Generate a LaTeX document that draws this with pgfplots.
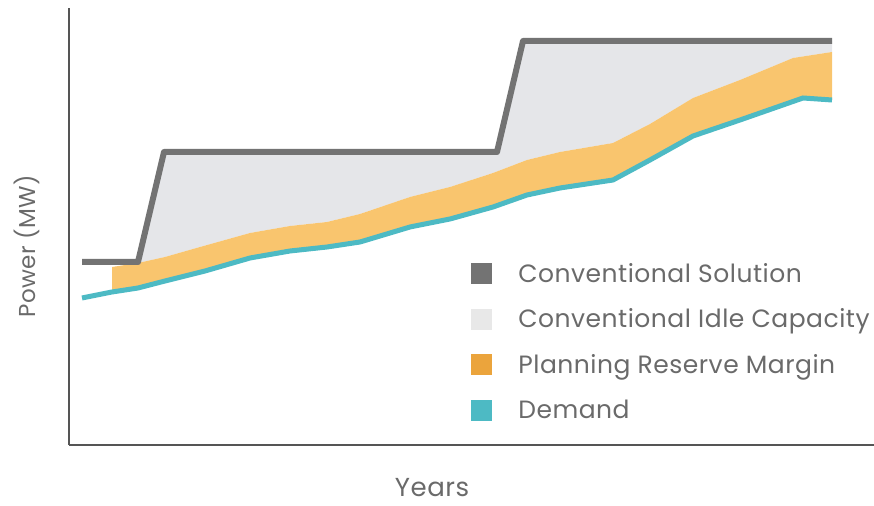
\documentclass[border=0pt]{standalone}
\usepackage{pgfplots}
\pgfplotsset{compat=1.18}
\usepackage{pgfplotstable}
\usepackage{fontspec}
\setmainfont{Poppins}[LetterSpace=2]
\definecolor{convline}{HTML}{737373}
\definecolor{idle}{HTML}{E5E6E9}
\definecolor{idleleg}{HTML}{E8E8E8}
\definecolor{reserve}{HTML}{F9C56E}
\definecolor{reserveleg}{HTML}{EBA43C}
\definecolor{demand}{HTML}{4DBAC4}
\definecolor{txt}{HTML}{6A6A6A}
\definecolor{axisc}{HTML}{555555}

% Conventional solution (step capacity)
\pgfplotstableread{
x y
82 244
138 244
164 354
497 354
523 465
832 465
}\conv

% Idle capacity region: conventional line then reserve top reversed
\pgfplotstableread{
x y
138 244
164 354
497 354
523 465
832 465
832 454
793 448
740 426
693 408
650 382
613 363
560 354
527 346
493 333
450 319
410 309
360 292
327 284
290 280
250 273
200 259
165 249
138 243
}\idlereg

% Planning reserve margin region: top then demand reversed
\pgfplotstableread{
x y
112 239
138 243
165 249
200 259
250 273
290 280
327 284
360 292
410 309
450 319
493 333
527 346
560 354
613 363
650 382
693 408
740 426
793 448
832 454
832 406
803 408
740 386
693 370
650 346
613 326
560 318
527 311
493 299
450 287
410 279
360 264
327 259
290 255
250 248
205 235
165 225
138 218
112 214
}\reservereg

% Demand
\pgfplotstableread{
x y
82 208
112 214
138 218
165 225
205 235
250 248
290 255
327 259
360 264
410 279
450 287
493 299
527 311
560 318
613 326
650 346
693 370
740 386
803 408
832 406
}\demandtab

\begin{document}
\begin{tikzpicture}
\useasboundingbox (0,0) rectangle (874bp,506bp);
\begin{axis}[
  at={(69bp,61bp)}, anchor=south west,
  scale only axis, width=805bp, height=437bp,
  xmin=69, xmax=874, ymin=61, ymax=498,
  axis x line*=bottom, axis y line*=left,
  axis line style={-, axisc, line width=1.6bp},
  xtick=\empty, ytick=\empty,
  clip=false,
  font=\fontsize{25bp}{29bp}\selectfont,
  xlabel={Years}, ylabel={Power (MW)},
  label style={txt, font=\fontsize{26bp}{30bp}\selectfont},
  xlabel style={at={(axis description cs:0.451,-0.098)}, anchor=center},
  ylabel style={at={(axis description cs:-0.052,0.455)}, anchor=center, rotate=0,
    font=\fontsize{23bp}{27bp}\selectfont},
  legend style={draw=none, fill=none, at={(axis cs:471,243)}, anchor=north west,
    inner sep=0pt, row sep=25bp, column sep=0pt,
    nodes={text=txt, inner xsep=0pt, inner ysep=0pt},
    font=\fontsize{25bp}{29bp}\selectfont},
  legend cell align=left,
]
\addplot[fill=idle, draw=none, forget plot] table {\idlereg};
\addplot[fill=reserve, draw=none, forget plot] table {\reservereg};
\addplot[demand, line width=5bp, forget plot] table {\demandtab};
\addplot[convline, line width=6bp, line join=round, forget plot] table {\conv};

\addlegendimage{legend image code/.code={\fill[convline] (0bp,-10bp) rectangle (20bp,10bp);\path[draw=none,fill=none] (0bp,0bp) -- (47bp,0bp);}}
\addlegendentry{Conventional Solution}
\addlegendimage{legend image code/.code={\fill[idleleg] (0bp,-10bp) rectangle (20bp,10bp);\path[draw=none,fill=none] (0bp,0bp) -- (47bp,0bp);}}
\addlegendentry{Conventional Idle Capacity}
\addlegendimage{legend image code/.code={\fill[reserveleg] (0bp,-10bp) rectangle (20bp,10bp);\path[draw=none,fill=none] (0bp,0bp) -- (47bp,0bp);}}
\addlegendentry{Planning Reserve Margin}
\addlegendimage{legend image code/.code={\fill[demand] (0bp,-10bp) rectangle (20bp,10bp);\path[draw=none,fill=none] (0bp,0bp) -- (47bp,0bp);}}
\addlegendentry{Demand}
\end{axis}
\end{tikzpicture}
\end{document}
